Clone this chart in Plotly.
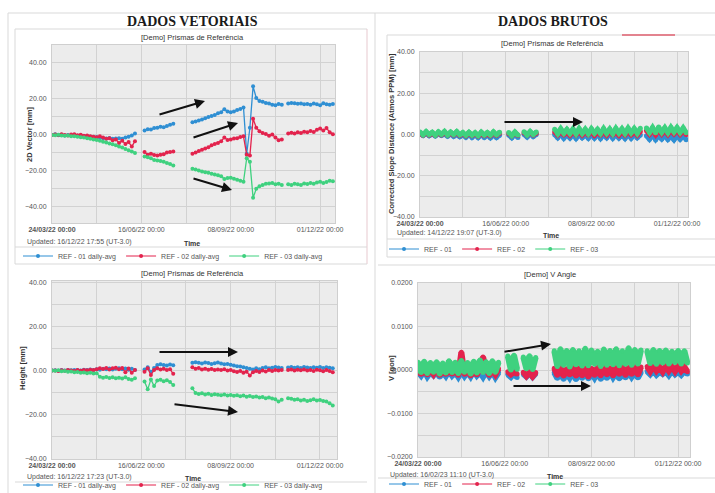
import pandas as pd
import plotly.graph_objects as go

# ---------------- data ----------------
N = None
dates = pd.date_range("2022-03-24", periods=89, freq="3D")

series_names = ["REF - 01", "REF - 02", "REF - 03"]
x_tick_dates = ["2022-03-24", "2022-06-16", "2022-09-08", "2022-12-01"]
x_tick_labels = ["<b>24/03/22 00:00</b>", "16/06/22 00:00", "08/09/22 00:00", "01/12/22 00:00"]

# 2D Vector [mm] daily avg
vec_ref01 = [0.0, 0.3, -0.2, 0.1, -0.3, 0.0, -0.4, -0.2, -0.5, -0.3, -0.6, -0.8, -1.0, -1.2, -1.1, -1.5, -1.8, -2.0, -1.7, -2.2, -2.0, -1.8, -2.1, -1.5, -1.0, -0.3, 0.8,
             N, N,
             2.5, 3.2, 3.0, 3.8, 4.0, 4.5, 4.2, 5.0, 5.6, 6.2,
             N, N, N, N, N,
             7.0, 7.5, 8.0, 8.6, 9.2, 10.0, 10.5, 11.0, 12.0, 12.6, 14.2, 13.0, 12.6, 13.0, 13.8, 14.4, 15.2, -10.5, 4.0, 27.0, 20.5, 18.8, 18.5, 17.8, 17.5, 16.8, 16.5, 17.2, 16.8,
             N,
             17.5, 17.8, 17.6, 17.3, 17.5, 17.0, 17.2, 16.8, 17.4, 17.0, 16.5, 17.6, 17.0, 16.8, 17.2]
vec_ref02 = [0.0, 0.2, -0.1, 0.3, 0.0, -0.3, 0.2, 0.4, -0.2, 0.1, -0.5, -0.3, -0.8, -1.0, -1.3, -0.8, -1.5, -2.2, -1.8, -3.0, -2.5, -4.5, -3.2, -5.0, -4.0, -6.5, -3.5,
             N, N,
             -9.5, -11.0, -10.5, -11.2, -11.5, -11.0, -10.8, -9.8, -9.5, -9.2,
             N, N, N, N, N,
             -10.5, -9.8, -9.0, -8.2, -7.5, -6.8, -5.8, -5.0, -4.5, -3.5, -1.5, -2.8, -2.5, -2.0, -1.8, -1.2, -0.8, -11.0, -11.5, 9.0, 4.0, 2.0, 1.0, 0.5, -0.5, 0.2, -1.5, -3.0, -2.5,
             N,
             0.8, 1.2, 0.8, 1.5, 1.0, 1.8, 1.5, 2.2, 1.6, 2.8, 3.5, 2.5, 3.8, 1.5, 0.3]
vec_ref03 = [0.0, -0.2, 0.1, -0.3, -0.5, -0.4, -0.8, -0.7, -1.0, -1.3, -1.5, -1.8, -2.2, -2.5, -2.8, -3.2, -3.8, -4.2, -4.8, -5.2, -5.8, -6.5, -7.0, -7.8, -8.5, -9.2, -10.0,
             N, N,
             -12.0, -12.5, -13.0, -14.0, -14.2, -14.5, -15.0, -15.6, -16.2, -17.0,
             N, N, N, N, N,
             -18.8, -19.2, -19.8, -20.3, -20.8, -21.0, -21.6, -22.0, -22.5, -23.0, -24.5, -24.0, -23.8, -24.4, -25.0, -25.5, -26.0, -13.0, -15.0, -35.0, -30.0, -28.5, -27.8, -27.2, -27.0, -26.8, -27.5, -27.2, -27.8,
             N,
             -27.5, -27.8, -27.2, -27.5, -27.8, -27.0, -27.3, -26.8, -27.2, -26.5, -26.0, -26.8, -26.2, -25.5, -25.8]

# Height [mm] daily avg
hgt_ref01 = [0.0, 0.1, -0.1, 0.2, 0.0, 0.2, 0.1, 0.3, 0.2, 0.0, 0.4, 0.2, 0.5, 0.3, 0.6, 0.4, 0.8, 0.6, 0.9, 0.5, 0.8, 1.0, 0.6, 0.9, 0.4, 0.8, 0.2,
             N, N,
             0.5, 1.5, -0.5, 1.2, 2.5, 2.8, 2.5, 2.3, 2.7, 2.4,
             N, N, N, N, N,
             3.5, 3.8, 3.5, 3.2, 3.6, 3.4, 3.0, 3.3, 3.6, 3.2, 2.8, 3.0, 2.6, 2.3, 2.0, 1.8, 1.5, 1.2, 0.8, 0.5, 1.0, 0.6, 1.2, 1.5, 1.0, 1.3, 1.6, 1.4, 1.2,
             N,
             1.4, 1.6, 1.3, 1.5, 1.2, 1.6, 1.4, 1.1, 1.5, 1.3, 1.6, 1.2, 1.5, 1.3, 1.0]
hgt_ref02 = [0.0, 0.0, -0.2, 0.1, -0.1, 0.3, 0.0, -0.2, 0.2, -0.1, 0.3, 0.1, 0.4, 0.2, 0.6, 1.0, 0.7, 1.2, 0.5, 1.0, 1.3, 0.6, 1.1, -0.8, 0.9, -1.0, 0.3,
             N, N,
             -0.5, 1.0, -2.0, 0.2, 1.0, 0.5, 0.8, 0.3, 0.6, -1.5,
             N, N, N, N, N,
             1.5, 0.8, 1.2, 0.5, 0.8, 0.4, 0.7, 0.3, 0.5, 0.2, 0.6, 0.0, 0.3, -0.3, -0.6, -0.2, -1.0, -0.5, -2.2, -0.8, -0.2, -0.6, 0.0, -0.4, 0.3, -0.2, 0.2, 0.0, 0.3,
             N,
             0.2, 0.5, 0.0, 0.4, 0.1, 0.5, 0.0, 0.3, -0.2, 0.4, 0.1, -0.3, 0.2, -0.2, -0.8]
hgt_ref03 = [0.0, -0.1, 0.1, -0.3, -0.2, -0.5, -0.4, -0.8, -0.6, -1.0, -0.9, -1.2, -1.0, -1.3, -1.2, -2.8, -3.2, -2.9, -3.4, -3.0, -3.5, -3.2, -3.6, -3.0, -3.8, -4.2, -3.5,
             N, N,
             -5.0, -8.5, -4.0, -7.0, -4.5, -4.2, -4.8, -4.4, -5.2, -6.5,
             N, N, N, N, N,
             -8.0, -10.2, -10.6, -10.3, -10.8, -10.5, -11.0, -10.7, -10.9, -11.2, -10.8, -11.3, -11.0, -11.4, -11.2, -11.6, -11.3, -11.8, -11.5, -12.0, -11.7, -12.2, -12.0, -12.5, -12.2, -12.6, -13.0, -14.0, -13.2,
             N,
             -12.5, -12.8, -13.2, -13.0, -13.5, -13.2, -13.8, -13.4, -13.0, -13.6, -13.3, -13.8, -14.0, -14.8, -15.8]

# Corrected Slope Distance (Atmos PPM) [mm] raw
csd_ref01 = [0.4, -0.5, 0.5, -0.6, 0.3, -0.7, 0.4, -0.5, 0.2, -0.8, 0.3, -0.9, 0.0, -1.1, -0.1, -1.3, 0.0, -1.4, -0.2, -1.5, -0.1, -1.4, -0.3, -1.6, -0.2, -1.5, -0.4,
             N, N,
             -0.2, -1.6, 0.0, -1.4,
             N,
             0.1, -1.2, 0.3, -1.0, 0.0,
             N, N, N, N, N,
             0.0, -1.6, 0.2, -1.8, -0.1, -1.7, 0.1, -1.9, 0.0, -1.6, -0.2, -1.8, 0.1, -1.7, 0.0, -1.9, -0.1, -1.6, 0.2, -1.8, 0.0, -1.7, -0.1, -1.9, 0.1, -1.8, 0.0, -1.6, -0.2,
             N,
             -0.6, -2.3, -0.4, -2.5, -0.7, -2.2, -0.5, -2.4, -0.8, -2.6, -0.5, -2.3, -0.6, -2.5,
             N]
csd_ref02 = [0.6, -0.3, 0.8, -0.2, 0.5, -0.4, 0.7, -0.1, 0.9, -0.3, 0.6, -0.2, 0.8, -0.4, 0.5, -0.6, 0.7, -0.5, 0.4, -0.7, 0.6, -0.5, 0.3, -0.6, 0.5, -0.4, 0.6,
             N, N,
             0.5, -0.6, 0.7, -0.4,
             N,
             0.8, -0.3, 0.9, -0.2, 0.6,
             N, N, N, N, N,
             1.2, -0.3, 1.4, -0.1, 1.1, -0.4, 1.3, -0.2, 1.5, -0.3, 1.2, -0.1, 1.4, -0.4, 1.1, -0.2, 1.3, -0.3, 1.5, -0.1, 1.2, -0.4, 1.4, -0.2, 1.6, -0.1, 1.3, -0.3, 1.5,
             N,
             1.9, 0.1, 2.1, -0.1, 2.3, 0.2, 2.0, 0.0, 2.2, 0.3, 2.1, 0.1, 1.9, 0.0,
             N]
csd_ref03 = [1.2, -0.1, 1.4, 0.0, 1.1, -0.3, 1.3, 0.1, 1.5, -0.2, 1.2, 0.0, 1.4, -0.1, 1.0, -0.4, 1.1, -0.3, 0.9, -0.5, 1.2, -0.2, 1.0, -0.3, 1.3, -0.1, 1.1,
             N, N,
             1.0, -0.5, 1.2, -0.3,
             N,
             1.3, -0.2, 1.5, 0.0, 1.2,
             N, N, N, N, N,
             2.6, 0.4, 2.8, 0.6, 2.5, 0.5, 2.7, 0.3, 2.9, 0.6, 2.6, 0.4, 2.8, 0.7, 2.5, 0.5, 2.9, 0.6, 2.7, 0.4, 3.0, 0.7, 2.8, 0.5, 3.1, 0.8, 2.9, 0.6, 3.0,
             N,
             3.2, 1.0, 3.4, 0.8, 3.6, 1.1, 3.3, 0.9, 3.5, 1.2, 3.4, 1.0, 3.2, 0.9,
             N]

# V Angle [gon] raw
vang_ref01 = [-0.0004, -0.0013, -0.0002, -0.0015, -0.0005, -0.0012, -0.0003, -0.0016, -0.0004, -0.0014, -0.0002, -0.0013, -0.0005, -0.0016, -0.0003, -0.0014, -0.0004, -0.0015, -0.0002, -0.0013, -0.0005, -0.0016, -0.0003, -0.0014, -0.0004, -0.0017, -0.0006,
              N, N,
              -0.0010, -0.0016, -0.0008, -0.0017,
              N,
              -0.0009, -0.0015, -0.0007, -0.0016, -0.0008,
              N, N, N, N, N,
              -0.0006, -0.0019, -0.0004, -0.0021, -0.0007, -0.0018, -0.0005, -0.0022, -0.0006, -0.0019, -0.0003, -0.0020, -0.0007, -0.0018, -0.0005, -0.0021, -0.0006, -0.0019, -0.0004, -0.0017, -0.0006, -0.0020, -0.0005, -0.0018, -0.0004, -0.0016, -0.0006, -0.0018, -0.0005,
              N,
              -0.0003, -0.0010, -0.0002, -0.0011, -0.0004, -0.0009, -0.0003, -0.0012, -0.0002, -0.0010, -0.0004, -0.0011, -0.0003, -0.0009,
              N]
vang_ref02 = [0.0003, -0.0010, 0.0004, -0.0011, 0.0002, -0.0009, 0.0004, -0.0012, 0.0001, -0.0010, 0.0004, -0.0009, 0.0003, -0.0012, 0.0041, -0.0010, 0.0003, -0.0013, 0.0002, -0.0011, 0.0004, 0.0030, 0.0002, -0.0012, 0.0001, -0.0010, 0.0003,
              N, N,
              -0.0004, -0.0010, -0.0005, -0.0009,
              N,
              -0.0005, -0.0014, -0.0006, -0.0015, -0.0006,
              N, N, N, N, N,
              0.0004, -0.0012, 0.0006, -0.0014, 0.0003, -0.0011, 0.0006, -0.0014, 0.0005, -0.0013, 0.0007, -0.0016, 0.0004, -0.0012, 0.0006, -0.0013, 0.0008, -0.0011, 0.0005, -0.0013, 0.0006, -0.0010, 0.0007, -0.0012, 0.0006, -0.0010, 0.0008, -0.0011, 0.0007,
              N,
              0.0008, -0.0003, 0.0009, -0.0002, 0.0007, -0.0004, 0.0009, -0.0002, 0.0008, -0.0003, 0.0009, -0.0002, 0.0007, -0.0004,
              N]
vang_ref03 = [0.0018, -0.0006, 0.0020, -0.0008, 0.0017, -0.0005, 0.0019, -0.0009, 0.0016, -0.0007, 0.0021, -0.0006, 0.0018, -0.0008, 0.0022, -0.0005, 0.0017, -0.0009, 0.0020, -0.0007, 0.0023, -0.0006, 0.0019, -0.0008, 0.0021, -0.0005, 0.0018,
              N, N,
              0.0032, 0.0000, 0.0034, 0.0002,
              N,
              0.0030, 0.0003, 0.0033, 0.0001, 0.0029,
              N, N, N, N, N,
              0.0044, 0.0008, 0.0049, 0.0011, 0.0045, 0.0007, 0.0047, 0.0012, 0.0044, 0.0009, 0.0050, 0.0010, 0.0046, 0.0013, 0.0043, 0.0008, 0.0048, 0.0011, 0.0045, 0.0012, 0.0049, 0.0010, 0.0044, 0.0013, 0.0051, 0.0011, 0.0047, 0.0014, 0.0046,
              N,
              0.0044, 0.0015, 0.0047, 0.0013, 0.0045, 0.0016, 0.0046, 0.0014, 0.0043, 0.0017, 0.0045, 0.0014, 0.0044, 0.0016,
              N]

# ---------------- figure ----------------
W, H = 715, 493
COLORS = ["#2f8fd3", "#e3234d", "#3fd17f"]
GRID = "#d2d2d2"
PLOT_BG = "#ececec"
FONT = "Liberation Sans, Arial, sans-serif"


def px(X, Y):
    return X / W, 1 - Y / H


fig = go.Figure()

panels = [
    # (series, axis suffix, legend id, line width, marker size, suffix text)
    ([vec_ref01, vec_ref02, vec_ref03], "", "legend", 1.3, 4, " daily-avg"),
    ([csd_ref01, csd_ref02, csd_ref03], "2", "legend2", 5, 5, ""),
    ([hgt_ref01, hgt_ref02, hgt_ref03], "3", "legend3", 1.3, 4, " daily-avg"),
    ([vang_ref01, vang_ref02, vang_ref03], "4", "legend4", 6, 5, ""),
]

for vals_list, ax, leg, lw, ms, suffix in panels:
    for vals, name, col in zip(vals_list, series_names, COLORS):
        fig.add_trace(go.Scatter(
            x=dates, y=vals, mode="lines+markers", name=name + suffix,
            line=dict(color=col, width=lw),
            marker=dict(color=col, size=ms),
            xaxis="x" + ax, yaxis="y" + ax, showlegend=False, connectgaps=False,
        ))
    for name, col in zip(series_names, COLORS):
        fig.add_trace(go.Scatter(
            x=[None], y=[None], mode="lines+markers", name=name + suffix,
            line=dict(color=col, width=1), marker=dict(color=col, size=4),
            xaxis="x" + ax, yaxis="y" + ax, legend=leg, showlegend=True,
        ))


def xaxis(domain, anchor, end):
    return dict(
        domain=domain, anchor=anchor, type="date", range=["2022-03-24", end],
        tickmode="array", tickvals=x_tick_dates, ticktext=x_tick_labels,
        showgrid=True, gridcolor=GRID, gridwidth=1,
        minor=dict(tick0="2022-03-24", dtick=42 * 86400000, showgrid=True, gridcolor=GRID, gridwidth=1),
        tickfont=dict(size=7, color="#555", family=FONT), ticks="",
        showline=True, linecolor="#cfcfcf", mirror=True, zeroline=False, tickangle=0,
        automargin=False,
    )


def yaxis(domain, anchor, rng, dtick, minor, fmt):
    return dict(
        domain=domain, anchor=anchor, range=rng, tick0=0, dtick=dtick, tickformat=fmt,
        showgrid=True, gridcolor=GRID, gridwidth=1,
        minor=dict(tick0=0, dtick=minor, showgrid=True, gridcolor=GRID, gridwidth=1),
        tickfont=dict(size=7, color="#555", family=FONT), ticks="outside", ticklen=3,
        tickcolor="rgba(0,0,0,0)", showline=True, linecolor="#cfcfcf", mirror=True, zeroline=False,
        automargin=False,
    )


def dom(x0, x1, y0, y1):
    return [x0 / W, x1 / W], [1 - y1 / H, 1 - y0 / H]


tl_x, tl_y = dom(52, 335, 45, 223)
tr_x, tr_y = dom(420, 688, 52, 217)
bl_x, bl_y = dom(52, 337, 281, 459)
br_x, br_y = dom(418, 690, 283, 457)

annotations = []


def text(X, Y, s, size=7, color="#444", bold=False, family=FONT, xanchor="center", angle=0):
    x, y = px(X, Y)
    annotations.append(dict(
        x=x, y=y, xref="paper", yref="paper", text=("<b>%s</b>" % s) if bold else s,
        showarrow=False, xanchor=xanchor, yanchor="middle", textangle=angle,
        font=dict(size=size, color=color, family=family),
    ))


def arrow(tail, head):
    x, y = px(*head)
    annotations.append(dict(
        x=x, y=y, xref="paper", yref="paper", text="", showarrow=True,
        ax=tail[0] - head[0], ay=tail[1] - head[1], axref="pixel", ayref="pixel",
        arrowhead=2, arrowsize=1, arrowwidth=2, arrowcolor="#111",
    ))


SERIF = "Liberation Serif, Times New Roman, serif"
text(192, 22, "DADOS VETORIAIS", size=14, color="#1a1a1a", bold=True, family=SERIF)
text(553, 22, "DADOS BRUTOS", size=14, color="#1a1a1a", bold=True, family=SERIF)

text(192, 37, "[Demo] Prismas de Referência", size=7.5, color="#333")
text(552, 44, "[Demo] Prismas de Referência", size=7.5, color="#333")
text(192, 273, "[Demo] Prismas de Referência", size=7.5, color="#333")
text(550, 274, "[Demo] V Angle", size=7.5, color="#333")

text(30, 134, "2D Vector [mm]", size=7.5, color="#333", bold=True, angle=-90)
text(392, 134, "Corrected Slope Distance (Atmos PPM) [mm]", size=7.5, color="#333", bold=True, angle=-90)
text(22, 368, "Height [mm]", size=7.5, color="#333", bold=True, angle=-90)
text(391, 368, "V [gon]", size=7.5, color="#333", bold=True, angle=-90)

text(25, 242, "Updated: 16/12/22 17:55 (UT-3.0)", size=7, color="#555", xanchor="left")
text(395, 233, "Updated: 14/12/22 19:07 (UT-3.0)", size=7, color="#555", xanchor="left")
text(25, 477, "Updated: 16/12/22 17:23 (UT-3.0)", size=7, color="#555", xanchor="left")
text(388, 475, "Updated: 16/02/23 11:10 (UT-3.0)", size=7, color="#555", xanchor="left")

text(192, 243, "Time", size=7, color="#333", bold=True)
text(551, 235, "Time", size=7, color="#333", bold=True)
text(193, 478, "Time", size=7, color="#333", bold=True)
text(555, 476, "Time", size=7, color="#333", bold=True)

arrow((158, 115), (205, 101))
arrow((192, 138), (238, 123))
arrow((192, 178), (232, 190))
arrow((503, 122), (583, 122))
arrow((158, 352), (238, 352))
arrow((173, 404), (238, 412))
arrow((503, 352), (551, 344))
arrow((512, 386), (591, 386))

FRAME = "#d9d9d9"


def line(x0, y0, x1, y1, color=FRAME, width=1):
    return dict(type="line", xref="paper", yref="paper",
                x0=x0 / W, y0=1 - y0 / H, x1=x1 / W, y1=1 - y1 / H,
                line=dict(color=color, width=width))


shapes = [
    line(8, 13, 715, 13), line(8, 13, 8, 493), line(375, 13, 375, 493),
    # top-left panel box
    line(15, 29, 367, 29), line(15, 29, 15, 264), line(367, 29, 367, 264, color="#e7c9cf"),
    line(15, 247, 367, 247), line(15, 264, 367, 264),
    # bottom-left legend line
    line(15, 482, 367, 482),
    # top-right panel box
    line(387, 35, 715, 35), line(387, 35, 387, 257), line(387, 239, 715, 239), line(387, 257, 715, 257),
    # bottom-right
    line(378, 265, 715, 265), line(378, 478, 715, 478),
    # red mark on the top right
    line(622, 35, 675, 35, color="#e06070", width=1.5),
]

leg_common = dict(orientation="h", xanchor="left", yanchor="middle", bgcolor="rgba(0,0,0,0)",
                  font=dict(size=7, color="#555", family=FONT), itemwidth=30, tracegroupgap=0)

fig.update_layout(
    width=W, height=H, margin=dict(l=0, r=0, t=0, b=0, autoexpand=False),
    paper_bgcolor="white", plot_bgcolor=PLOT_BG,
    font=dict(family=FONT, size=7, color="#555"),
    xaxis=xaxis(tl_x, "y", "2022-12-15"),
    yaxis=yaxis(tl_y, "x", [-49, 50], 20, 10, ".2f"),
    xaxis2=xaxis(tr_x, "y2", "2022-12-11 18:00"),
    yaxis2=yaxis(tr_y, "x2", [-40, 40], 20, 10, ".2f"),
    xaxis3=xaxis(bl_x, "y3", "2022-12-17"),
    yaxis3=yaxis(bl_y, "x3", [-40, 40.5], 20, 10, ".2f"),
    xaxis4=xaxis(br_x, "y4", "2022-12-12 12:00"),
    yaxis4=yaxis(br_y, "x4", [-0.02, 0.02], 0.01, 0.005, ".4f"),
    legend=dict(x=18 / W, y=1 - 256 / H, **leg_common),
    legend2=dict(x=384 / W, y=1 - 249 / H, **leg_common),
    legend3=dict(x=18 / W, y=1 - 485 / H, **leg_common),
    legend4=dict(x=384 / W, y=1 - 484 / H, **leg_common),
    annotations=annotations, shapes=shapes,
)

fig.write_html("out.html", config={"displayModeBar": False},
               post_script="document.body.style.margin='0';document.body.style.overflow='hidden';")
